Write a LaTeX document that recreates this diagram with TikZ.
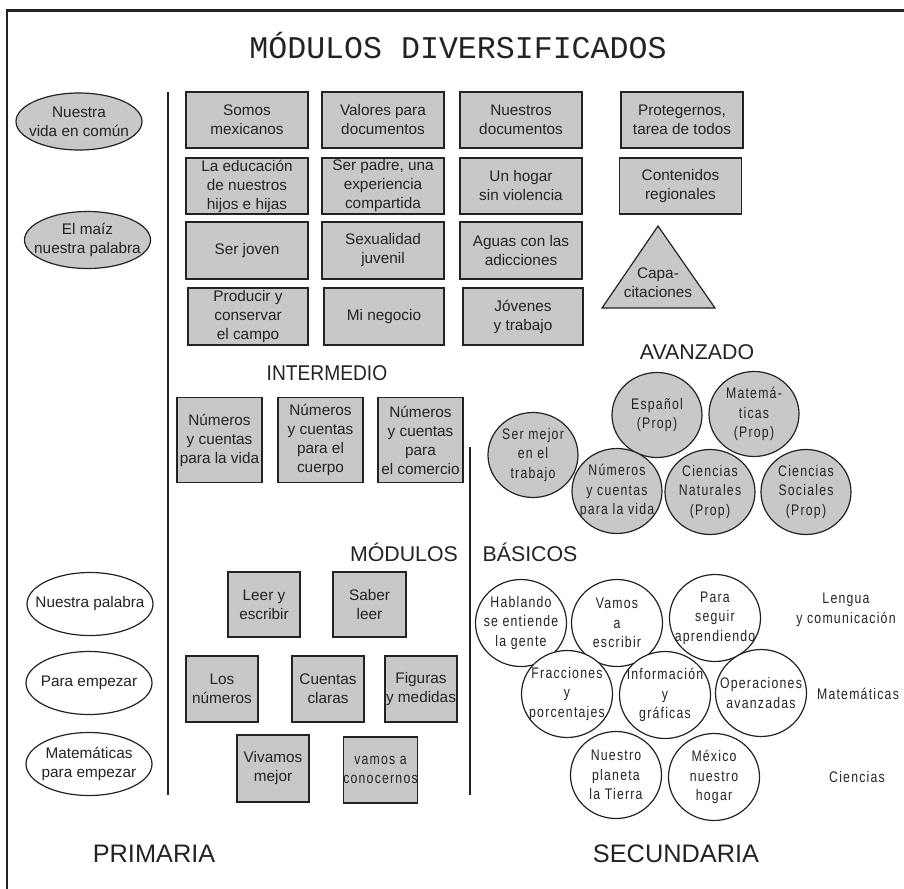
\documentclass[tikz,border=0pt]{standalone}
\usepackage{fontspec}
\setmainfont{Liberation Sans}
\newfontfamily\titlefont{Liberation Mono}
\newfontfamily\condfont[FakeStretch=0.8,LetterSpace=8]{Liberation Sans}
\newfontfamily\narrowfont[FakeStretch=0.9]{Liberation Sans}
\usetikzlibrary{shapes.geometric}
\definecolor{panelgray}{RGB}{200,200,200}
\definecolor{inkgray}{RGB}{35,35,35}

\begin{document}
\begin{tikzpicture}[x=0.75pt,y=-0.75pt,
  every node/.style={inner sep=0pt, align=center, text=inkgray},
  boxtext/.style={font=\fontsize{11.5}{14.25}\selectfont},
  circtext/.style={font=\condfont\fontsize{11.5}{14.6}\selectfont},
  heading/.style={font=\fontsize{16}{19}\selectfont},
  level/.style={font=\fontsize{19}{22}\selectfont},
  gbox/.style 2 args={boxtext, draw=inkgray, line width=1pt, fill=panelgray,
    minimum width=#1*0.75pt, minimum height=#2*0.75pt},
  % ellipses keep a fixed size; their text sits in a centred label
  oval/.style 2 args={ellipse, draw=inkgray, line width=0.9pt,
    minimum width=#1*0.75pt, minimum height=#2*0.75pt},
  gell/.style={oval={126}{57}, fill=panelgray, label={[boxtext]center:{#1}}},
  well/.style={oval={126}{63}, fill=white, label={[boxtext]center:{#1}}},
  gcirc/.style={oval={90}{85}, fill=panelgray, label={[circtext]center:{#1}}},
  wcirc/.style={oval={91}{87}, fill=white, label={[circtext]center:{#1}}},
  frame/.style={draw=inkgray, line width=2.2pt},
  divider/.style={draw=inkgray, line width=1.8pt},
]
\useasboundingbox (0,0) rectangle (904,889);

% outer frame (top and left edges)
\coordinate (frameBL) at (7,889);
\coordinate (frameTL) at (7,10.5);
\coordinate (frameTR) at (904,10.5);
\draw[frame] (frameBL) -- (frameTL) -- (frameTR);

% title
\node[font=\titlefont\fontsize{23.7}{28}\selectfont] (title) at (458,46) {MÓDULOS DIVERSIFICADOS};

% dividers between columns
\coordinate (divAtop) at (168,92);
\coordinate (divAbot) at (168,795);
\coordinate (divBtop) at (470,447);
\coordinate (divBbot) at (470,795);
\draw[divider] (divAtop) -- (divAbot);
\draw[divider] (divBtop) -- (divBbot);

% diversified modules, left column
\node[gell={Nuestra\\vida en común}] (vidacomun) at (79,121.5) {};
\node[gell={El maíz\\nuestra palabra}] (maiz) at (87.5,240) {};

% diversified modules, grid
\node[gbox={122}{56}] (b11) at (247,120) {Somos\\mexicanos};
\node[gbox={122}{56}] (b12) at (383,120) {Valores para\\documentos};
\node[gbox={122}{56}] (b13) at (521,120) {Nuestros\\documentos};
\node[gbox={122}{56}] (b14) at (682,120) {Protegernos,\\tarea de todos};

\node[gbox={122}{56}] (b21) at (247,186) {La educación\\de nuestros\\hijos e hijas};
\node[gbox={122}{56}] (b22) at (383,186) {Ser padre, una\\experiencia\\compartida};
\node[gbox={122}{56}] (b23) at (521,186) {Un hogar\\sin violencia};
\node[gbox={122}{56}] (b24) at (680.5,186) {Contenidos\\regionales};

\node[gbox={122}{57}] (b31) at (247,250.5) {Ser joven};
\node[gbox={122}{57}] (b32) at (383,250.5) {Sexualidad\\juvenil};
\node[gbox={122}{57}] (b33) at (521,250.5) {Aguas con las\\adicciones};

\node[gbox={120}{57}] (b41) at (248,316.5) {Producir y\\conservar\\el campo};
\node[gbox={120}{57}] (b42) at (384,316.5) {Mi negocio};
\node[gbox={120}{57}] (b43) at (523,316.5) {Jóvenes\\y trabajo};

% training triangle
\coordinate (triTop) at (658,226);
\coordinate (triR) at (715,308);
\coordinate (triL) at (602,308);
\draw[draw=inkgray, line width=0.9pt, fill=panelgray] (triTop) -- (triR) -- (triL) -- cycle;
\node[boxtext] (capa) at (658,282.5) {Capa-\\citaciones};

% intermediate level
\node[font=\narrowfont\fontsize{16}{19}\selectfont] (intermedio) at (327,373) {INTERMEDIO};
\node[gbox={85}{85}] (i1) at (219.5,440) {Números\\y cuentas\\para la vida};
\node[gbox={85}{85}] (i2) at (320.5,440) {Números\\y cuentas\\para el\\cuerpo};
\node[gbox={85}{85}] (i3) at (420.5,440) {Números\\y cuentas\\para\\el comercio};

% advanced level
\node[heading] (avanzado) at (697,352) {AVANZADO};
\node[gcirc={Ser mejor\\en el\\trabajo}] (a1) at (533,455) {};
\node[gcirc={Español\\(Prop)}] (a2) at (657,415) {};
\node[gcirc={Matemá-\\ticas\\(Prop)}] (a3) at (754,414) {};
\node[gcirc={Números\\y cuentas\\para la vida}] (a4) at (617,491) {};
\node[gcirc={Ciencias\\Naturales\\(Prop)}] (a5) at (710,492) {};
\node[gcirc={Ciencias\\Sociales\\(Prop)}] (a6) at (806,492) {};

% basic modules
\node[heading] (modulos) at (404,552) {MÓDULOS};
\node[heading] (basicos) at (530,552) {BÁSICOS};

\node[well={Nuestra palabra}] (nuestrapalabra) at (90,604) {};
\node[well={Para empezar}] (paraempezar) at (89,683) {};
\node[well={Matemáticas\\para empezar}] (matempezar) at (89,764) {};

\node[gbox={72}{65}] (p1) at (264,604.5) {Leer y\\escribir};
\node[gbox={73}{65}] (p2) at (369.5,604.5) {Saber\\leer};
\node[gbox={72}{66}] (p3) at (222,689) {Los\\números};
\node[gbox={72}{66}] (p4) at (328,689) {Cuentas\\claras};
\node[gbox={72}{66}] (p5) at (421,689) {Figuras\\y medidas};
\node[gbox={72}{67}] (p6) at (273,768.5) {Vivamos\\mejor};
\node[gbox={73}{66}, circtext] (p7) at (380.5,770) {vamos a\\conocernos};

\node[wcirc={Hablando\\se entiende\\la gente}] (c1) at (521,623) {};
\node[wcirc={Vamos\\a\\escribir}] (c2) at (617,623) {};
\node[wcirc={Para\\seguir\\aprendiendo}] (c3) at (715,618) {};
\node[wcirc={Fracciones\\y\\porcentajes}] (c4) at (567,694) {};
\node[wcirc={Información\\y\\gráficas}] (c5) at (665,695) {};
\node[wcirc={Operaciones\\avanzadas}] (c6) at (761,693) {};
\node[wcirc={Nuestro\\planeta\\la Tierra}] (c7) at (616,775) {};
\node[wcirc={México\\nuestro\\hogar}] (c8) at (714,777) {};

\node[circtext] (lengua) at (846,610) {Lengua\\y comunicación};
\node[circtext] (matematicas) at (858,694) {Matemáticas};
\node[circtext] (ciencias) at (857,777) {Ciencias};

% school levels
\node[level] (primaria) at (154,854) {PRIMARIA};
\node[level] (secundaria) at (676,854) {SECUNDARIA};
\end{tikzpicture}
\end{document}
